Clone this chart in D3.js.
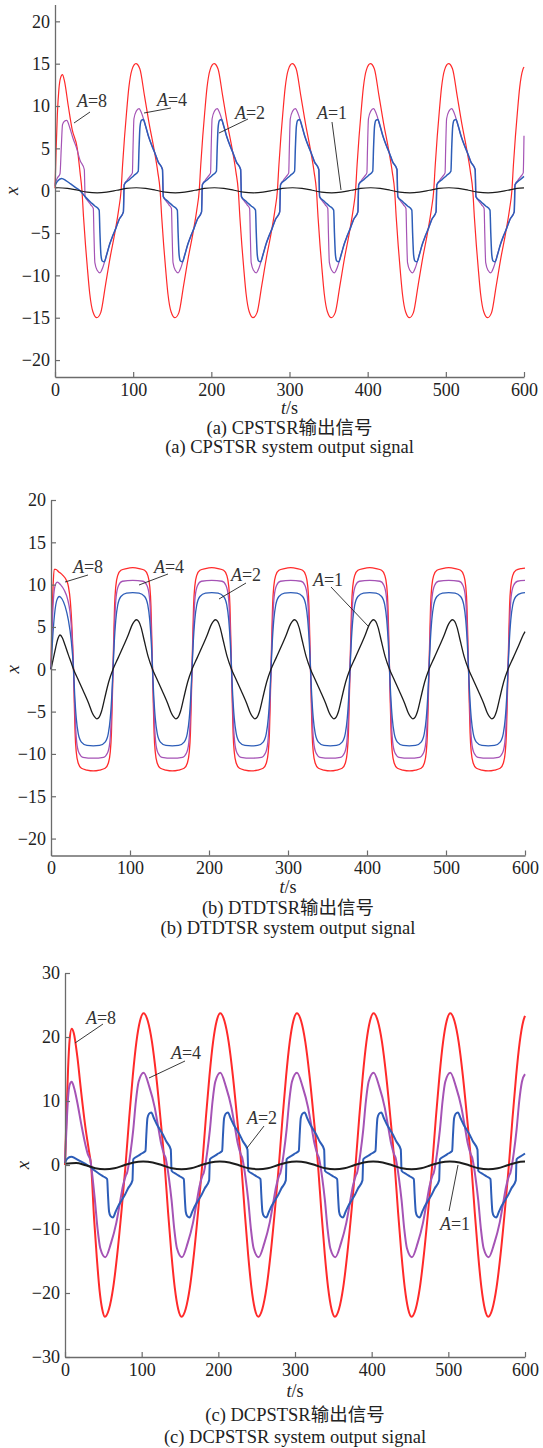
<!DOCTYPE html>
<html>
<head>
<meta charset="utf-8">
<script src="https://cdn.jsdelivr.net/npm/d3@7/dist/d3.min.js"></script>
<style>
body { margin: 0; background: #fff; }
</style>
</head>
<body>
<div class="canvas"></div>
<script>
// tick values
const timeTicks = [0, 100, 200, 300, 400, 500, 600];
const yTicksAB = [-20, -15, -10, -5, 0, 5, 10, 15, 20];
const yTicksC = [-30, -20, -10, 0, 10, 20, 30];
const amplitudes = ['8', '4', '2', '1'];

// (a) CPSTSR, [t, x]
const cpstsrA8 = [[0,0.3],[1.5,5],[3,9],[5,12],[7,13.3],[9.5,13.7],[12,13],[17,10],[22,7.2],[28.5,5],[32,2.2],[34.5,0],
[36.5,-3.1],[39,-6.4],[41.5,-9.2],[44.5,-12.2],[48.5,-14.3],[53.5,-15],[58.5,-14.4],[64.5,-11.2],[70.5,-7.9],[76.5,-5],[81.5,-2.2],
[84.5,0],[86.5,3.1],[89,6.4],[91.5,9.2],[94.5,12.2],[98.5,14.3],[103.5,15],[108.5,14.4],[114.5,11.2],[120.5,7.9],[126.5,5],[131.5,2.2],
[134.5,0],[136.5,-3.1],[139,-6.4],[141.5,-9.2],[144.5,-12.2],[148.5,-14.3],[153.5,-15],[158.5,-14.4],[164.5,-11.2],[170.5,-7.9],[176.5,-5],[181.5,-2.2],
[184.5,0],[186.5,3.1],[189,6.4],[191.5,9.2],[194.5,12.2],[198.5,14.3],[203.5,15],[208.5,14.4],[214.5,11.2],[220.5,7.9],[226.5,5],[231.5,2.2],
[234.5,0],[236.5,-3.1],[239,-6.4],[241.5,-9.2],[244.5,-12.2],[248.5,-14.3],[253.5,-15],[258.5,-14.4],[264.5,-11.2],[270.5,-7.9],[276.5,-5],[281.5,-2.2],
[284.5,0],[286.5,3.1],[289,6.4],[291.5,9.2],[294.5,12.2],[298.5,14.3],[303.5,15],[308.5,14.4],[314.5,11.2],[320.5,7.9],[326.5,5],[331.5,2.2],
[334.5,0],[336.5,-3.1],[339,-6.4],[341.5,-9.2],[344.5,-12.2],[348.5,-14.3],[353.5,-15],[358.5,-14.4],[364.5,-11.2],[370.5,-7.9],[376.5,-5],[381.5,-2.2],
[384.5,0],[386.5,3.1],[389,6.4],[391.5,9.2],[394.5,12.2],[398.5,14.3],[403.5,15],[408.5,14.4],[414.5,11.2],[420.5,7.9],[426.5,5],[431.5,2.2],
[434.5,0],[436.5,-3.1],[439,-6.4],[441.5,-9.2],[444.5,-12.2],[448.5,-14.3],[453.5,-15],[458.5,-14.4],[464.5,-11.2],[470.5,-7.9],[476.5,-5],[481.5,-2.2],
[484.5,0],[486.5,3.1],[489,6.4],[491.5,9.2],[494.5,12.2],[498.5,14.3],[503.5,15],[508.5,14.4],[514.5,11.2],[520.5,7.9],[526.5,5],[531.5,2.2],
[534.5,0],[536.5,-3.1],[539,-6.4],[541.5,-9.2],[544.5,-12.2],[548.5,-14.3],[553.5,-15],[558.5,-14.4],[564.5,-11.2],[570.5,-7.9],[576.5,-5],[581.5,-2.2],
[584.5,0],[586.5,3.1],[589,6.4],[591.5,9.2],[594.5,12.2],[598.5,14.3],[600,14.6]];

const cpstsrA4 = [[0,0.8],[3,1.5],[6.4,2],[8,5],[9.6,7.8],[12,8.2],[15,8.3],[19,7.4],[23,6.2],[27.7,5],[32,3.6],[37.5,2.5],[38.5,-0.7],
[42,-1.2],[46,-1.7],[49,-2.1],[49.8,-5],[51,-8.5],[54,-9.4],[57.5,-9.7],[61,-9.1],[65,-7.9],[69,-6.6],[74,-5.3],[78,-4.4],[82,-3.4],[87.5,-2.5],
[88.5,0.7],[92,1.2],[96,1.7],[99,2.1],[99.8,5],[101,8.5],[104,9.4],[107.5,9.7],[111,9.1],[115,7.9],[119,6.6],[124,5.3],[128,4.4],[132,3.4],[137.5,2.5],
[138.5,-0.7],[142,-1.2],[146,-1.7],[149,-2.1],[149.8,-5],[151,-8.5],[154,-9.4],[157.5,-9.7],[161,-9.1],[165,-7.9],[169,-6.6],[174,-5.3],[178,-4.4],[182,-3.4],[187.5,-2.5],
[188.5,0.7],[192,1.2],[196,1.7],[199,2.1],[199.8,5],[201,8.5],[204,9.4],[207.5,9.7],[211,9.1],[215,7.9],[219,6.6],[224,5.3],[228,4.4],[232,3.4],[237.5,2.5],
[238.5,-0.7],[242,-1.2],[246,-1.7],[249,-2.1],[249.8,-5],[251,-8.5],[254,-9.4],[257.5,-9.7],[261,-9.1],[265,-7.9],[269,-6.6],[274,-5.3],[278,-4.4],[282,-3.4],[287.5,-2.5],
[288.5,0.7],[292,1.2],[296,1.7],[299,2.1],[299.8,5],[301,8.5],[304,9.4],[307.5,9.7],[311,9.1],[315,7.9],[319,6.6],[324,5.3],[328,4.4],[332,3.4],[337.5,2.5],
[338.5,-0.7],[342,-1.2],[346,-1.7],[349,-2.1],[349.8,-5],[351,-8.5],[354,-9.4],[357.5,-9.7],[361,-9.1],[365,-7.9],[369,-6.6],[374,-5.3],[378,-4.4],[382,-3.4],[387.5,-2.5],
[388.5,0.7],[392,1.2],[396,1.7],[399,2.1],[399.8,5],[401,8.5],[404,9.4],[407.5,9.7],[411,9.1],[415,7.9],[419,6.6],[424,5.3],[428,4.4],[432,3.4],[437.5,2.5],
[438.5,-0.7],[442,-1.2],[446,-1.7],[449,-2.1],[449.8,-5],[451,-8.5],[454,-9.4],[457.5,-9.7],[461,-9.1],[465,-7.9],[469,-6.6],[474,-5.3],[478,-4.4],[482,-3.4],[487.5,-2.5],
[488.5,0.7],[492,1.2],[496,1.7],[499,2.1],[499.8,5],[501,8.5],[504,9.4],[507.5,9.7],[511,9.1],[515,7.9],[519,6.6],[524,5.3],[528,4.4],[532,3.4],[537.5,2.5],
[538.5,-0.7],[542,-1.2],[546,-1.7],[549,-2.1],[549.8,-5],[551,-8.5],[554,-9.4],[557.5,-9.7],[561,-9.1],[565,-7.9],[569,-6.6],[574,-5.3],[578,-4.4],[582,-3.4],[587.5,-2.5],
[588.5,0.7],[592,1.2],[596,1.7],[599,2.1],[600,6.5]];

const cpstsrA2 = [[0,0.6],[3,1.1],[8.5,1.45],[14,1.2],[20,0.8],[26,0.4],[32,0],[38.5,-0.7],
[45,-1.3],[51,-1.8],[56.5,-2.3],[57.5,-5],[58.8,-7.6],[60.5,-8.3],[63,-8.4],[66,-7.6],[70,-6.3],[74,-5.3],[78,-4.4],[82,-3.4],[87.5,-2.5],
[88.5,0.7],[95,1.3],[101,1.8],[106.5,2.3],[107.5,5],[108.8,7.6],[110.5,8.3],[113,8.4],[116,7.6],[120,6.3],[124,5.3],[128,4.4],[132,3.4],[137.5,2.5],
[138.5,-0.7],[145,-1.3],[151,-1.8],[156.5,-2.3],[157.5,-5],[158.8,-7.6],[160.5,-8.3],[163,-8.4],[166,-7.6],[170,-6.3],[174,-5.3],[178,-4.4],[182,-3.4],[187.5,-2.5],
[188.5,0.7],[195,1.3],[201,1.8],[206.5,2.3],[207.5,5],[208.8,7.6],[210.5,8.3],[213,8.4],[216,7.6],[220,6.3],[224,5.3],[228,4.4],[232,3.4],[237.5,2.5],
[238.5,-0.7],[245,-1.3],[251,-1.8],[256.5,-2.3],[257.5,-5],[258.8,-7.6],[260.5,-8.3],[263,-8.4],[266,-7.6],[270,-6.3],[274,-5.3],[278,-4.4],[282,-3.4],[287.5,-2.5],
[288.5,0.7],[295,1.3],[301,1.8],[306.5,2.3],[307.5,5],[308.8,7.6],[310.5,8.3],[313,8.4],[316,7.6],[320,6.3],[324,5.3],[328,4.4],[332,3.4],[337.5,2.5],
[338.5,-0.7],[345,-1.3],[351,-1.8],[356.5,-2.3],[357.5,-5],[358.8,-7.6],[360.5,-8.3],[363,-8.4],[366,-7.6],[370,-6.3],[374,-5.3],[378,-4.4],[382,-3.4],[387.5,-2.5],
[388.5,0.7],[395,1.3],[401,1.8],[406.5,2.3],[407.5,5],[408.8,7.6],[410.5,8.3],[413,8.4],[416,7.6],[420,6.3],[424,5.3],[428,4.4],[432,3.4],[437.5,2.5],
[438.5,-0.7],[445,-1.3],[451,-1.8],[456.5,-2.3],[457.5,-5],[458.8,-7.6],[460.5,-8.3],[463,-8.4],[466,-7.6],[470,-6.3],[474,-5.3],[478,-4.4],[482,-3.4],[487.5,-2.5],
[488.5,0.7],[495,1.3],[501,1.8],[506.5,2.3],[507.5,5],[508.8,7.6],[510.5,8.3],[513,8.4],[516,7.6],[520,6.3],[524,5.3],[528,4.4],[532,3.4],[537.5,2.5],
[538.5,-0.7],[545,-1.3],[551,-1.8],[556.5,-2.3],[557.5,-5],[558.8,-7.6],[560.5,-8.3],[563,-8.4],[566,-7.6],[570,-6.3],[574,-5.3],[578,-4.4],[582,-3.4],[587.5,-2.5],
[588.5,0.7],[595,1.3],[600,1.7]];

const cpstsrA1 = [[0,0.33],[4,0.35],[16,0.27],[29,0.05],[41,-0.17],[54,-0.25],[66,-0.17],[79,0.05],[91,0.27],
[104,0.35],[116,0.27],[129,0.05],[141,-0.17],[154,-0.25],[166,-0.17],[179,0.05],[191,0.27],
[204,0.35],[216,0.27],[229,0.05],[241,-0.17],[254,-0.25],[266,-0.17],[279,0.05],[291,0.27],
[304,0.35],[316,0.27],[329,0.05],[341,-0.17],[354,-0.25],[366,-0.17],[379,0.05],[391,0.27],
[404,0.35],[416,0.27],[429,0.05],[441,-0.17],[454,-0.25],[466,-0.17],[479,0.05],[491,0.27],
[504,0.35],[516,0.27],[529,0.05],[541,-0.17],[554,-0.25],[566,-0.17],[579,0.05],[591,0.27],[600,0.34]];

// (b) DTDTSR, [t, x]
const dtdtsrA8 = [[0,0],[1,5],[2.5,9.5],[4,11.8],[6,11.8],[10,11.5],[15,11.1],[19,10.6],[22,9.8],[24.5,8],[26.5,5],[28.5,0],
[29.5,-4],[30.5,-7.5],[32,-9.8],[34.5,-11.1],[38.5,-11.7],[45.5,-11.9],[53.5,-12],[61.5,-11.9],[68.5,-11.7],[72.5,-11.1],[75,-9.8],[76.5,-7.5],[77.5,-4],[78.5,0],
[79.5,4],[80.5,7.5],[82,9.8],[84.5,11.1],[88.5,11.7],[95.5,11.9],[103.5,12],[111.5,11.9],[118.5,11.7],[122.5,11.1],[125,9.8],[126.5,7.5],[127.5,4],[128.5,0],
[129.5,-4],[130.5,-7.5],[132,-9.8],[134.5,-11.1],[138.5,-11.7],[145.5,-11.9],[153.5,-12],[161.5,-11.9],[168.5,-11.7],[172.5,-11.1],[175,-9.8],[176.5,-7.5],[177.5,-4],[178.5,0],
[179.5,4],[180.5,7.5],[182,9.8],[184.5,11.1],[188.5,11.7],[195.5,11.9],[203.5,12],[211.5,11.9],[218.5,11.7],[222.5,11.1],[225,9.8],[226.5,7.5],[227.5,4],[228.5,0],
[229.5,-4],[230.5,-7.5],[232,-9.8],[234.5,-11.1],[238.5,-11.7],[245.5,-11.9],[253.5,-12],[261.5,-11.9],[268.5,-11.7],[272.5,-11.1],[275,-9.8],[276.5,-7.5],[277.5,-4],[278.5,0],
[279.5,4],[280.5,7.5],[282,9.8],[284.5,11.1],[288.5,11.7],[295.5,11.9],[303.5,12],[311.5,11.9],[318.5,11.7],[322.5,11.1],[325,9.8],[326.5,7.5],[327.5,4],[328.5,0],
[329.5,-4],[330.5,-7.5],[332,-9.8],[334.5,-11.1],[338.5,-11.7],[345.5,-11.9],[353.5,-12],[361.5,-11.9],[368.5,-11.7],[372.5,-11.1],[375,-9.8],[376.5,-7.5],[377.5,-4],[378.5,0],
[379.5,4],[380.5,7.5],[382,9.8],[384.5,11.1],[388.5,11.7],[395.5,11.9],[403.5,12],[411.5,11.9],[418.5,11.7],[422.5,11.1],[425,9.8],[426.5,7.5],[427.5,4],[428.5,0],
[429.5,-4],[430.5,-7.5],[432,-9.8],[434.5,-11.1],[438.5,-11.7],[445.5,-11.9],[453.5,-12],[461.5,-11.9],[468.5,-11.7],[472.5,-11.1],[475,-9.8],[476.5,-7.5],[477.5,-4],[478.5,0],
[479.5,4],[480.5,7.5],[482,9.8],[484.5,11.1],[488.5,11.7],[495.5,11.9],[503.5,12],[511.5,11.9],[518.5,11.7],[522.5,11.1],[525,9.8],[526.5,7.5],[527.5,4],[528.5,0],
[529.5,-4],[530.5,-7.5],[532,-9.8],[534.5,-11.1],[538.5,-11.7],[545.5,-11.9],[553.5,-12],[561.5,-11.9],[568.5,-11.7],[572.5,-11.1],[575,-9.8],[576.5,-7.5],[577.5,-4],[578.5,0],
[579.5,4],[580.5,7.5],[582,9.8],[584.5,11.1],[588.5,11.7],[595.5,11.9],[600,11.95]];

const dtdtsrA4 = [[0,0],[1.5,5],[3.5,8.8],[6,10.1],[8,10.3],[12,10],[17,9.3],[21,8.3],[24,6.8],[26.5,4],[28.5,0],
[29.7,-3.5],[31,-6.5],[32.5,-8.6],[35.5,-9.9],[40.5,-10.4],[53.5,-10.5],[66.5,-10.4],[71.5,-9.9],[74.5,-8.6],[76,-6.5],[77.3,-3.5],[78.5,0],
[79.7,3.5],[81,6.5],[82.5,8.6],[85.5,9.9],[90.5,10.4],[103.5,10.5],[116.5,10.4],[121.5,9.9],[124.5,8.6],[126,6.5],[127.3,3.5],[128.5,0],
[129.7,-3.5],[131,-6.5],[132.5,-8.6],[135.5,-9.9],[140.5,-10.4],[153.5,-10.5],[166.5,-10.4],[171.5,-9.9],[174.5,-8.6],[176,-6.5],[177.3,-3.5],[178.5,0],
[179.7,3.5],[181,6.5],[182.5,8.6],[185.5,9.9],[190.5,10.4],[203.5,10.5],[216.5,10.4],[221.5,9.9],[224.5,8.6],[226,6.5],[227.3,3.5],[228.5,0],
[229.7,-3.5],[231,-6.5],[232.5,-8.6],[235.5,-9.9],[240.5,-10.4],[253.5,-10.5],[266.5,-10.4],[271.5,-9.9],[274.5,-8.6],[276,-6.5],[277.3,-3.5],[278.5,0],
[279.7,3.5],[281,6.5],[282.5,8.6],[285.5,9.9],[290.5,10.4],[303.5,10.5],[316.5,10.4],[321.5,9.9],[324.5,8.6],[326,6.5],[327.3,3.5],[328.5,0],
[329.7,-3.5],[331,-6.5],[332.5,-8.6],[335.5,-9.9],[340.5,-10.4],[353.5,-10.5],[366.5,-10.4],[371.5,-9.9],[374.5,-8.6],[376,-6.5],[377.3,-3.5],[378.5,0],
[379.7,3.5],[381,6.5],[382.5,8.6],[385.5,9.9],[390.5,10.4],[403.5,10.5],[416.5,10.4],[421.5,9.9],[424.5,8.6],[426,6.5],[427.3,3.5],[428.5,0],
[429.7,-3.5],[431,-6.5],[432.5,-8.6],[435.5,-9.9],[440.5,-10.4],[453.5,-10.5],[466.5,-10.4],[471.5,-9.9],[474.5,-8.6],[476,-6.5],[477.3,-3.5],[478.5,0],
[479.7,3.5],[481,6.5],[482.5,8.6],[485.5,9.9],[490.5,10.4],[503.5,10.5],[516.5,10.4],[521.5,9.9],[524.5,8.6],[526,6.5],[527.3,3.5],[528.5,0],
[529.7,-3.5],[531,-6.5],[532.5,-8.6],[535.5,-9.9],[540.5,-10.4],[553.5,-10.5],[566.5,-10.4],[571.5,-9.9],[574.5,-8.6],[576,-6.5],[577.3,-3.5],[578.5,0],
[579.7,3.5],[581,6.5],[582.5,8.6],[585.5,9.9],[590.5,10.4],[600,10.5]];

const dtdtsrA2 = [[0,0],[2,3.5],[4.5,6.5],[7.5,8.2],[10.5,8.6],[14,8.3],[18,7.4],[22,5.8],[25.5,3.5],[28.5,0],
[30,-3],[32,-5.8],[34.5,-7.6],[38.5,-8.6],[45.5,-9],[53.5,-9.05],[61.5,-9],[68.5,-8.6],[72.5,-7.6],[75,-5.8],[77,-3],[78.5,0],
[80,3],[82,5.8],[84.5,7.6],[88.5,8.6],[95.5,9],[103.5,9.05],[111.5,9],[118.5,8.6],[122.5,7.6],[125,5.8],[127,3],[128.5,0],
[130,-3],[132,-5.8],[134.5,-7.6],[138.5,-8.6],[145.5,-9],[153.5,-9.05],[161.5,-9],[168.5,-8.6],[172.5,-7.6],[175,-5.8],[177,-3],[178.5,0],
[180,3],[182,5.8],[184.5,7.6],[188.5,8.6],[195.5,9],[203.5,9.05],[211.5,9],[218.5,8.6],[222.5,7.6],[225,5.8],[227,3],[228.5,0],
[230,-3],[232,-5.8],[234.5,-7.6],[238.5,-8.6],[245.5,-9],[253.5,-9.05],[261.5,-9],[268.5,-8.6],[272.5,-7.6],[275,-5.8],[277,-3],[278.5,0],
[280,3],[282,5.8],[284.5,7.6],[288.5,8.6],[295.5,9],[303.5,9.05],[311.5,9],[318.5,8.6],[322.5,7.6],[325,5.8],[327,3],[328.5,0],
[330,-3],[332,-5.8],[334.5,-7.6],[338.5,-8.6],[345.5,-9],[353.5,-9.05],[361.5,-9],[368.5,-8.6],[372.5,-7.6],[375,-5.8],[377,-3],[378.5,0],
[380,3],[382,5.8],[384.5,7.6],[388.5,8.6],[395.5,9],[403.5,9.05],[411.5,9],[418.5,8.6],[422.5,7.6],[425,5.8],[427,3],[428.5,0],
[430,-3],[432,-5.8],[434.5,-7.6],[438.5,-8.6],[445.5,-9],[453.5,-9.05],[461.5,-9],[468.5,-8.6],[472.5,-7.6],[475,-5.8],[477,-3],[478.5,0],
[480,3],[482,5.8],[484.5,7.6],[488.5,8.6],[495.5,9],[503.5,9.05],[511.5,9],[518.5,8.6],[522.5,7.6],[525,5.8],[527,3],[528.5,0],
[530,-3],[532,-5.8],[534.5,-7.6],[538.5,-8.6],[545.5,-9],[553.5,-9.05],[561.5,-9],[568.5,-8.6],[572.5,-7.6],[575,-5.8],[577,-3],[578.5,0],
[580,3],[582,5.8],[584.5,7.6],[588.5,8.6],[595.5,9],[600,9.05]];

const dtdtsrA1 = [[0,0],[3,1.3],[6,2.6],[8.5,3.55],[11.5,4.05],[14.5,3.7],[18,2.8],[22,1.7],[25.5,0.8],[28.5,0],
[35,-1.35],[42,-2.8],[48,-4.1],[52,-5.1],[55,-5.6],[58,-5.85],[61,-5.65],[64,-4.95],[68,-3.4],[73,-1.5],[78.5,0],
[85,1.35],[92,2.8],[98,4.1],[102,5.1],[105,5.6],[108,5.85],[111,5.65],[114,4.95],[118,3.4],[123,1.5],[128.5,0],
[135,-1.35],[142,-2.8],[148,-4.1],[152,-5.1],[155,-5.6],[158,-5.85],[161,-5.65],[164,-4.95],[168,-3.4],[173,-1.5],[178.5,0],
[185,1.35],[192,2.8],[198,4.1],[202,5.1],[205,5.6],[208,5.85],[211,5.65],[214,4.95],[218,3.4],[223,1.5],[228.5,0],
[235,-1.35],[242,-2.8],[248,-4.1],[252,-5.1],[255,-5.6],[258,-5.85],[261,-5.65],[264,-4.95],[268,-3.4],[273,-1.5],[278.5,0],
[285,1.35],[292,2.8],[298,4.1],[302,5.1],[305,5.6],[308,5.85],[311,5.65],[314,4.95],[318,3.4],[323,1.5],[328.5,0],
[335,-1.35],[342,-2.8],[348,-4.1],[352,-5.1],[355,-5.6],[358,-5.85],[361,-5.65],[364,-4.95],[368,-3.4],[373,-1.5],[378.5,0],
[385,1.35],[392,2.8],[398,4.1],[402,5.1],[405,5.6],[408,5.85],[411,5.65],[414,4.95],[418,3.4],[423,1.5],[428.5,0],
[435,-1.35],[442,-2.8],[448,-4.1],[452,-5.1],[455,-5.6],[458,-5.85],[461,-5.65],[464,-4.95],[468,-3.4],[473,-1.5],[478.5,0],
[485,1.35],[492,2.8],[498,4.1],[502,5.1],[505,5.6],[508,5.85],[511,5.65],[514,4.95],[518,3.4],[523,1.5],[528.5,0],
[535,-1.35],[542,-2.8],[548,-4.1],[552,-5.1],[555,-5.6],[558,-5.85],[561,-5.65],[564,-4.95],[568,-3.4],[573,-1.5],[578.5,0],
[585,1.35],[592,2.8],[598,4.1],[600,4.45]];

// (c) DCPSTSR, [t, x]
const dcpstsrA8 = [[0,0],[2,8],[4,15],[6,19.5],[8.7,21.3],[11.5,20.6],[16,17],[21,11.5],[26.5,6],[31.5,2],[34,0],
[38,-8.5],[41.5,-14.5],[45,-19.5],[48.5,-22.5],[52,-23.7],[57.4,-22.5],[62.8,-19.2],[68.2,-13.9],[73.6,-7.3],[79,0],
[83.7,7.3],[88.4,13.9],[93.1,19.2],[97.8,22.5],[102.5,23.7],[108,22.5],[113.5,19.2],[119,13.9],[124.5,7.3],[130,0],
[134.4,-7.3],[138.8,-13.9],[143.2,-19.2],[147.6,-22.5],[152,-23.7],[157.4,-22.5],[162.8,-19.2],[168.2,-13.9],[173.6,-7.3],[179,0],
[183.7,7.3],[188.4,13.9],[193.1,19.2],[197.8,22.5],[202.5,23.7],[208,22.5],[213.5,19.2],[219,13.9],[224.5,7.3],[230,0],
[234.4,-7.3],[238.8,-13.9],[243.2,-19.2],[247.6,-22.5],[252,-23.7],[257.4,-22.5],[262.8,-19.2],[268.2,-13.9],[273.6,-7.3],[279,0],
[283.7,7.3],[288.4,13.9],[293.1,19.2],[297.8,22.5],[302.5,23.7],[308,22.5],[313.5,19.2],[319,13.9],[324.5,7.3],[330,0],
[334.4,-7.3],[338.8,-13.9],[343.2,-19.2],[347.6,-22.5],[352,-23.7],[357.4,-22.5],[362.8,-19.2],[368.2,-13.9],[373.6,-7.3],[379,0],
[383.7,7.3],[388.4,13.9],[393.1,19.2],[397.8,22.5],[402.5,23.7],[408,22.5],[413.5,19.2],[419,13.9],[424.5,7.3],[430,0],
[434.4,-7.3],[438.8,-13.9],[443.2,-19.2],[447.6,-22.5],[452,-23.7],[457.4,-22.5],[462.8,-19.2],[468.2,-13.9],[473.6,-7.3],[479,0],
[483.7,7.3],[488.4,13.9],[493.1,19.2],[497.8,22.5],[502.5,23.7],[508,22.5],[513.5,19.2],[519,13.9],[524.5,7.3],[530,0],
[534.4,-7.3],[538.8,-13.9],[543.2,-19.2],[547.6,-22.5],[552,-23.7],[557.4,-22.5],[562.8,-19.2],[568.2,-13.9],[573.6,-7.3],[579,0],
[583.7,7.3],[588.4,13.9],[593.1,19.2],[597.8,22.5],[600,23.3]];

const dcpstsrA4 = [[0,0.5],[2,6],[4,10.5],[6,12.5],[8.7,13],[12,12],[16,9.8],[21,6.5],[26,3.5],[30,1.6],[33,0.8],[35.5,-1.5],
[39,-5.5],[42.5,-10],[46,-13],[52.6,-14.4],[60,-12.2],[67,-9],[71.5,-6],[75.5,-3.3],[79.5,-1.6],[81,-1.2],
[83,0],[85.5,2],[89,5.5],[92.5,10],[96,13],[102.6,14.4],[110,12.2],[117,9],[121.5,6],[125.5,3.3],[129.5,1.6],[131,1.2],
[133,0],[135.5,-2],[139,-5.5],[142.5,-10],[146,-13],[152.6,-14.4],[160,-12.2],[167,-9],[171.5,-6],[175.5,-3.3],[179.5,-1.6],[181,-1.2],
[183,0],[185.5,2],[189,5.5],[192.5,10],[196,13],[202.6,14.4],[210,12.2],[217,9],[221.5,6],[225.5,3.3],[229.5,1.6],[231,1.2],
[233,0],[235.5,-2],[239,-5.5],[242.5,-10],[246,-13],[252.6,-14.4],[260,-12.2],[267,-9],[271.5,-6],[275.5,-3.3],[279.5,-1.6],[281,-1.2],
[283,0],[285.5,2],[289,5.5],[292.5,10],[296,13],[302.6,14.4],[310,12.2],[317,9],[321.5,6],[325.5,3.3],[329.5,1.6],[331,1.2],
[333,0],[335.5,-2],[339,-5.5],[342.5,-10],[346,-13],[352.6,-14.4],[360,-12.2],[367,-9],[371.5,-6],[375.5,-3.3],[379.5,-1.6],[381,-1.2],
[383,0],[385.5,2],[389,5.5],[392.5,10],[396,13],[402.6,14.4],[410,12.2],[417,9],[421.5,6],[425.5,3.3],[429.5,1.6],[431,1.2],
[433,0],[435.5,-2],[439,-5.5],[442.5,-10],[446,-13],[452.6,-14.4],[460,-12.2],[467,-9],[471.5,-6],[475.5,-3.3],[479.5,-1.6],[481,-1.2],
[483,0],[485.5,2],[489,5.5],[492.5,10],[496,13],[502.6,14.4],[510,12.2],[517,9],[521.5,6],[525.5,3.3],[529.5,1.6],[531,1.2],
[533,0],[535.5,-2],[539,-5.5],[542.5,-10],[546,-13],[552.6,-14.4],[560,-12.2],[567,-9],[571.5,-6],[575.5,-3.3],[579.5,-1.6],[581,-1.2],
[583,0],[585.5,2],[589,5.5],[592.5,10],[596,13],[600,14.2]];

const dcpstsrA2 = [[0,0.3],[3,1],[8,1.3],[14,1],[20,0.6],[26,0.2],[32,-0.2],[39,-0.9],
[45,-1.4],[50,-1.8],[55,-2.2],[56,-4.5],[57.5,-7.3],[59.5,-8],[62.5,-8.2],[66,-7.3],[70,-6.3],[74,-5.5],[78,-4.7],[82,-3.7],[88,-2.4],
[89,0.9],[95,1.4],[100,1.8],[105,2.2],[106,4.5],[107.5,7.3],[109.5,8],[112.5,8.2],[116,7.3],[120,6.3],[124,5.5],[128,4.7],[132,3.7],[138,2.4],
[139,-0.9],[145,-1.4],[150,-1.8],[155,-2.2],[156,-4.5],[157.5,-7.3],[159.5,-8],[162.5,-8.2],[166,-7.3],[170,-6.3],[174,-5.5],[178,-4.7],[182,-3.7],[188,-2.4],
[189,0.9],[195,1.4],[200,1.8],[205,2.2],[206,4.5],[207.5,7.3],[209.5,8],[212.5,8.2],[216,7.3],[220,6.3],[224,5.5],[228,4.7],[232,3.7],[238,2.4],
[239,-0.9],[245,-1.4],[250,-1.8],[255,-2.2],[256,-4.5],[257.5,-7.3],[259.5,-8],[262.5,-8.2],[266,-7.3],[270,-6.3],[274,-5.5],[278,-4.7],[282,-3.7],[288,-2.4],
[289,0.9],[295,1.4],[300,1.8],[305,2.2],[306,4.5],[307.5,7.3],[309.5,8],[312.5,8.2],[316,7.3],[320,6.3],[324,5.5],[328,4.7],[332,3.7],[338,2.4],
[339,-0.9],[345,-1.4],[350,-1.8],[355,-2.2],[356,-4.5],[357.5,-7.3],[359.5,-8],[362.5,-8.2],[366,-7.3],[370,-6.3],[374,-5.5],[378,-4.7],[382,-3.7],[388,-2.4],
[389,0.9],[395,1.4],[400,1.8],[405,2.2],[406,4.5],[407.5,7.3],[409.5,8],[412.5,8.2],[416,7.3],[420,6.3],[424,5.5],[428,4.7],[432,3.7],[438,2.4],
[439,-0.9],[445,-1.4],[450,-1.8],[455,-2.2],[456,-4.5],[457.5,-7.3],[459.5,-8],[462.5,-8.2],[466,-7.3],[470,-6.3],[474,-5.5],[478,-4.7],[482,-3.7],[488,-2.4],
[489,0.9],[495,1.4],[500,1.8],[505,2.2],[506,4.5],[507.5,7.3],[509.5,8],[512.5,8.2],[516,7.3],[520,6.3],[524,5.5],[528,4.7],[532,3.7],[538,2.4],
[539,-0.9],[545,-1.4],[550,-1.8],[555,-2.2],[556,-4.5],[557.5,-7.3],[559.5,-8],[562.5,-8.2],[566,-7.3],[570,-6.3],[574,-5.5],[578,-4.7],[582,-3.7],[588,-2.4],
[589,0.9],[595,1.4],[600,1.8]];

const dcpstsrA1 = [[0,0.2],[14.5,0.3],[27,-0.05],[39.5,-0.5],[52,-0.65],[64.5,-0.5],[77,-0.05],[89.5,0.4],
[102,0.55],[114.5,0.4],[127,-0.05],[139.5,-0.5],[152,-0.65],[164.5,-0.5],[177,-0.05],[189.5,0.4],
[202,0.55],[214.5,0.4],[227,-0.05],[239.5,-0.5],[252,-0.65],[264.5,-0.5],[277,-0.05],[289.5,0.4],
[302,0.55],[314.5,0.4],[327,-0.05],[339.5,-0.5],[352,-0.65],[364.5,-0.5],[377,-0.05],[389.5,0.4],
[402,0.55],[414.5,0.4],[427,-0.05],[439.5,-0.5],[452,-0.65],[464.5,-0.5],[477,-0.05],[489.5,0.4],
[502,0.55],[514.5,0.4],[527,-0.05],[539.5,-0.5],[552,-0.65],[564.5,-0.5],[577,-0.05],[589.5,0.4],[600,0.53]];

const colour = d3.scaleOrdinal().domain(amplitudes).range(['#ff2a2a', '#a553b5', '#2d5db8', '#1c1c1c']);
const serif = "'Liberation Serif', 'Times New Roman', 'Noto Sans CJK SC', serif";

const svg = d3.select('.canvas')
	.append('svg')
	.attr('width', 543)
	.attr('height', 1448);

const panels = [
	{
		left: 55, right: 524, top: 4.4, bottom: 377, domain: [-22, 22], ticks: yTicksAB,
		series: [cpstsrA8, cpstsrA4, cpstsrA2, cpstsrA1], widths: [1.2, 1.2, 1.5, 1.2],
		xLabel: 12, textOffsets: [37, 57, 76], captions: ['(a) CPSTSR输出信号', '(a) CPSTSR system output signal'],
		notes: [[92, 107, 90, 112, 74, 123], [172, 106, 171, 108, 144, 113], [250, 119, 248, 119, 219, 133], [332, 119, 332, 122, 341, 190]]
	},
	{
		left: 51, right: 525, top: 500, bottom: 855.5, domain: [-22, 20], ticks: yTicksAB,
		series: [dtdtsrA8, dtdtsrA4, dtdtsrA2, dtdtsrA1], widths: [1.3, 1.3, 1.3, 1.3],
		xLabel: 13, textOffsets: [37, 58, 78], captions: ['(b) DTDTSR输出信号', '(b) DTDTSR system output signal'],
		notes: [[88, 573, 88, 575, 65, 582], [169, 573, 168, 574, 139, 585], [246, 581, 246, 583, 219, 599], [328, 586, 331, 587, 368, 626]]
	},
	{
		left: 65, right: 525, top: 973, bottom: 1357, domain: [-30, 30], ticks: yTicksC,
		series: [dcpstsrA8, dcpstsrA4, dcpstsrA2, dcpstsrA1], widths: [2, 2, 2, 2],
		xLabel: 23, textOffsets: [40, 64, 86], captions: ['(c) DCPSTSR输出信号', '(c) DCPSTSR system output signal'],
		notes: [[101, 1024, 103, 1024, 75, 1043], [186, 1059, 185, 1061, 149, 1078], [262, 1124, 264, 1126, 247, 1148], [455, 1230, 458, 1165, 449, 1211]]
	}
];

const minus = d => d < 0 ? '\u2212' + Math.abs(d) : d;

panels.forEach(p => {
	const x = d3.scaleLinear().domain([0, 600]).range([p.left, p.right]);
	const y = d3.scaleLinear().domain(p.domain).range([p.bottom, p.top]);
	const g = svg.append('g');

	// lines
	const line = d3.line()
		.x(d => x(d[0]))
		.y(d => y(d[1]))
		.curve(d3.curveMonotoneX);

	p.series.forEach((s, i) => {
		g.append('path')
			.attr('d', line(s))
			.attr('fill', 'none')
			.attr('stroke', colour(amplitudes[i]))
			.attr('stroke-width', p.widths[i])
			.attr('stroke-linejoin', 'round');
	});

	// axes
	const xAxisGroup = g.append('g')
		.attr('transform', `translate(0, ${p.bottom})`)
		.call(d3.axisBottom(x).tickValues(timeTicks).tickSizeInner(-5).tickSizeOuter(0).tickPadding(6));
	const yAxisGroup = g.append('g')
		.attr('transform', `translate(${p.left}, 0)`)
		.call(d3.axisLeft(y).tickValues(p.ticks).tickSizeInner(-5).tickSizeOuter(0).tickPadding(5).tickFormat(minus));

	[xAxisGroup, yAxisGroup].forEach(a => {
		a.attr('font-family', serif).attr('font-size', 18);
		a.select('.domain').attr('stroke', '#6b6b6b').attr('stroke-width', 1.3);
		a.selectAll('.tick line').attr('stroke', '#6b6b6b').attr('stroke-width', 1.2);
		a.selectAll('.tick text').attr('fill', '#222');
	});

	// axis titles
	g.append('text')
		.attr('transform', `translate(${p.xLabel}, ${y(0)}) rotate(-90)`)
		.attr('text-anchor', 'middle')
		.attr('dy', '0.3em')
		.attr('font-family', serif)
		.attr('font-size', 19)
		.attr('font-style', 'italic')
		.attr('fill', '#222')
		.text('x');

	const tLabel = g.append('text')
		.attr('x', (p.left + p.right) / 2)
		.attr('y', p.bottom + p.textOffsets[0])
		.attr('text-anchor', 'middle')
		.attr('font-family', serif)
		.attr('font-size', 18)
		.attr('fill', '#222');
	tLabel.append('tspan').attr('font-style', 'italic').text('t');
	tLabel.append('tspan').text('/s');

	p.captions.forEach((c, i) => {
		g.append('text')
			.attr('x', (p.left + p.right) / 2)
			.attr('y', p.bottom + p.textOffsets[i + 1])
			.attr('text-anchor', 'middle')
			.attr('font-family', serif)
			.attr('font-size', 18.5)
			.attr('fill', '#222')
			.text(c);
	});

	// A= notes with leader lines
	p.notes.forEach((n, i) => {
		g.append('line')
			.attr('x1', n[2]).attr('y1', n[3])
			.attr('x2', n[4]).attr('y2', n[5])
			.attr('stroke', '#222')
			.attr('stroke-width', 0.9);
		const t = g.append('text')
			.attr('x', n[0])
			.attr('y', n[1])
			.attr('text-anchor', 'middle')
			.attr('font-family', serif)
			.attr('font-size', 18)
			.attr('fill', '#333');
		t.append('tspan').attr('font-style', 'italic').text('A');
		t.append('tspan').text('=' + amplitudes[i]);
	});
});
</script>
</body>
</html>
